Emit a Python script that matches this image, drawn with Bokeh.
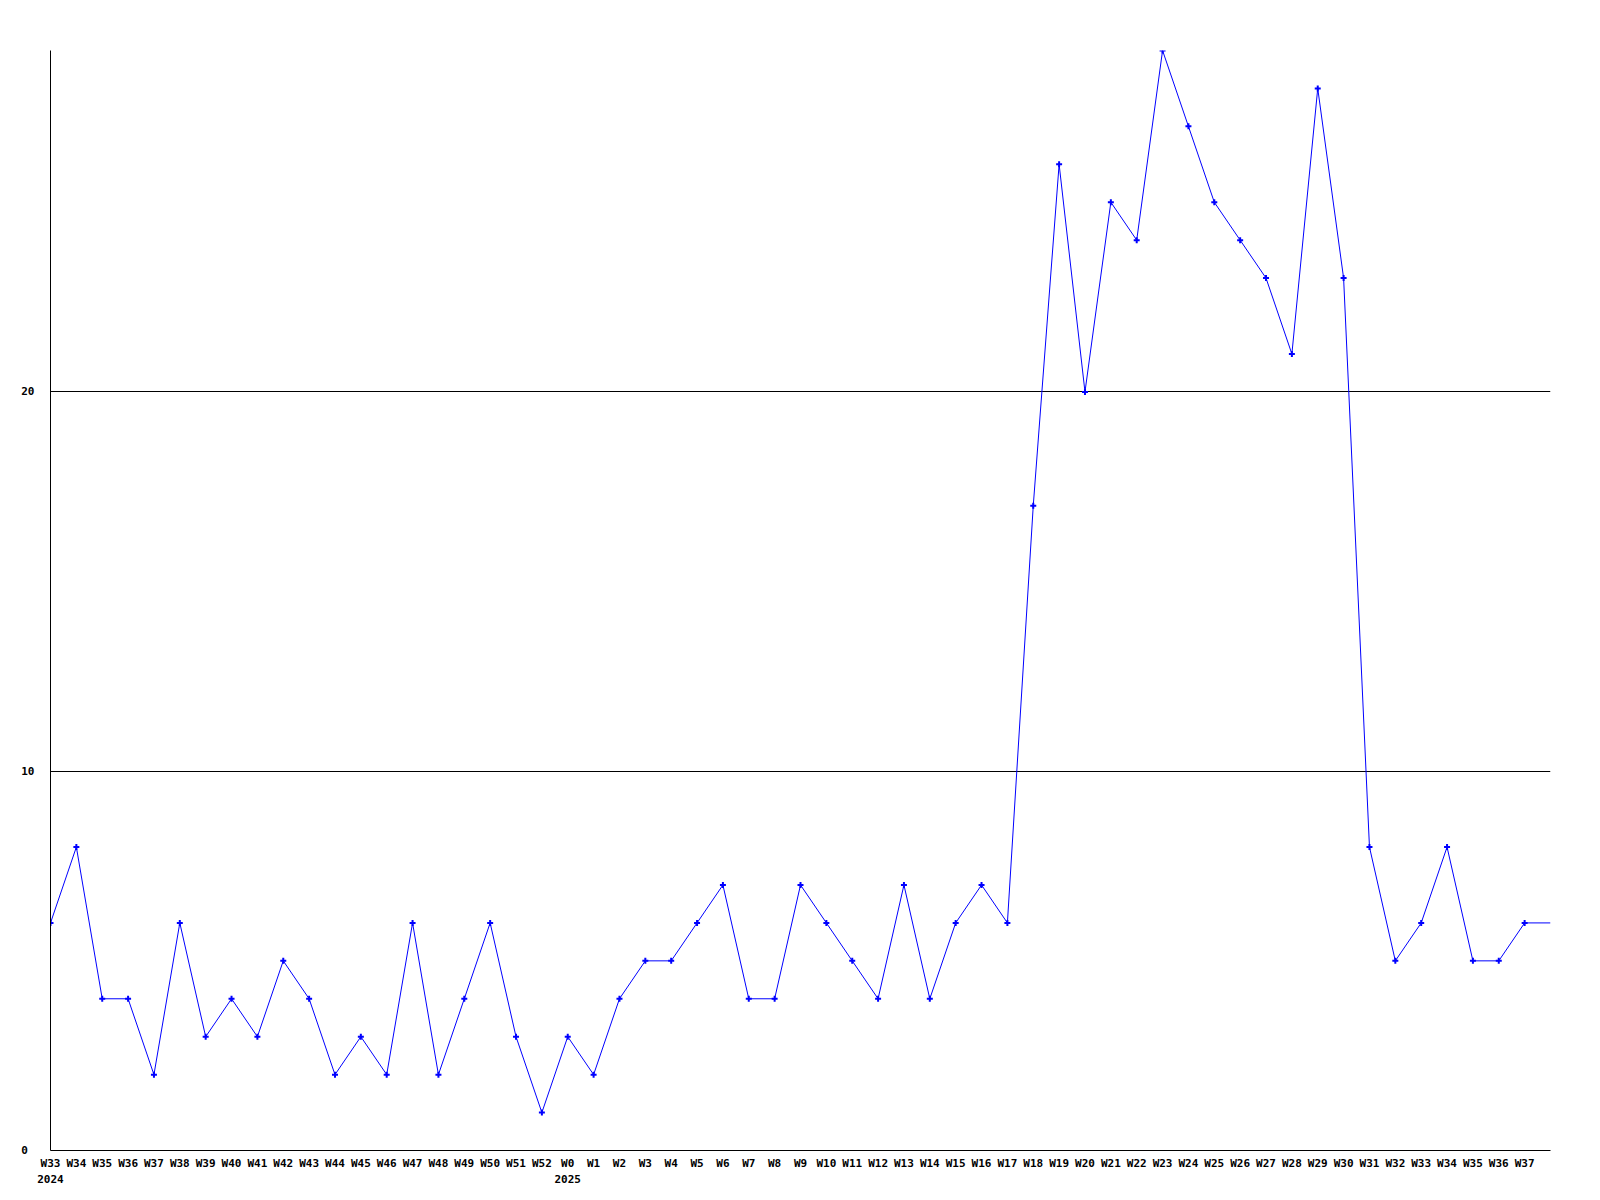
from bokeh.plotting import figure
from bokeh.models import FixedTicker, Range1d
from bokeh.embed import file_html
from bokeh.resources import INLINE

weeks_2024 = ["W33", "W34", "W35", "W36", "W37", "W38", "W39", "W40", "W41", "W42",
              "W43", "W44", "W45", "W46", "W47", "W48", "W49", "W50", "W51", "W52"]
weeks_2025 = ["W0", "W1", "W2", "W3", "W4", "W5", "W6", "W7", "W8", "W9", "W10",
              "W11", "W12", "W13", "W14", "W15", "W16", "W17", "W18", "W19", "W20",
              "W21", "W22", "W23", "W24", "W25", "W26", "W27", "W28", "W29", "W30",
              "W31", "W32", "W33", "W34", "W35", "W36", "W37"]
week_labels = weeks_2024 + weeks_2025
years = ["2024", "2025"]

values = [6, 8, 4, 4, 2, 6, 3, 4, 3, 5, 4, 2, 3, 2, 6, 2, 4, 6, 3, 1,
          3, 2, 4, 5, 5, 6, 7, 4, 4, 7, 6, 5, 4, 7, 4, 6, 7, 6, 17, 26,
          20, 25, 24, 29, 27, 25, 24, 23, 21, 28, 23, 8, 5, 6, 8, 5, 5, 6]
# current (partial) week, drawn as line continuation only
current_value = 6

y_ticks = [0, 10, 20]
y_max = 29

n = len(week_labels)
xs = list(range(n))
line_x = xs + [n]
line_y = values + [current_value]

FW, FH = 1500, 1100
font = "DejaVu Sans Mono"

p = figure(frame_width=FW, frame_height=FH, output_backend="svg", toolbar_location=None,
           x_range=Range1d(0, n), y_range=Range1d(0, y_max),
           min_border_left=50, min_border_top=50, min_border_right=20, min_border_bottom=0)
p.outline_line_color = None
p.background_fill_color = "white"
p.border_fill_color = "white"

p.line(line_x, line_y, line_color="#0000ff", line_width=1)
p.scatter(xs, values, marker="cross", size=6, line_width=2, color="#0000ff")

# y axis (labels padded with no-break spaces so they share a left edge)
max_len = max(len(str(t)) for t in y_ticks)
p.yaxis.ticker = FixedTicker(ticks=y_ticks)
p.yaxis.major_label_overrides = {t: str(t) + "\u00a0" * (max_len - len(str(t))) for t in y_ticks}
p.yaxis.major_tick_line_color = None
p.yaxis.major_tick_out = 0
p.yaxis.major_tick_in = 0
p.yaxis.minor_tick_line_color = None
p.yaxis.axis_line_color = "black"
p.yaxis.major_label_text_font = font
p.yaxis.major_label_text_font_style = "bold"
p.yaxis.major_label_text_font_size = "11px"
p.yaxis.major_label_text_color = "black"
p.yaxis.major_label_standoff = 16

p.ygrid.ticker = FixedTicker(ticks=[t for t in y_ticks if t > 0])
p.ygrid.grid_line_color = "black"
p.ygrid.grid_line_width = 1
p.xgrid.grid_line_color = None

# x axis: week labels, with the year on a second line at the first week of each year
year_starts = {0: years[0], len(weeks_2024): years[1]}
labels = {}
for i, lab in enumerate(week_labels):
    labels[i] = lab + ("\n" + year_starts[i] if i in year_starts else "")
p.xaxis.ticker = FixedTicker(ticks=xs)
p.xaxis.major_label_overrides = labels
p.xaxis.major_tick_line_color = None
p.xaxis.major_tick_out = 0
p.xaxis.major_tick_in = 0
p.xaxis.minor_tick_line_color = None
p.xaxis.axis_line_color = "black"
p.xaxis.major_label_text_font = font
p.xaxis.major_label_text_font_style = "bold"
p.xaxis.major_label_text_font_size = "11px"
p.xaxis.major_label_text_color = "black"
p.xaxis.major_label_text_line_height = 1.3
p.xaxis.major_label_standoff = 6

open("out.html", "w").write(file_html(p, INLINE))
